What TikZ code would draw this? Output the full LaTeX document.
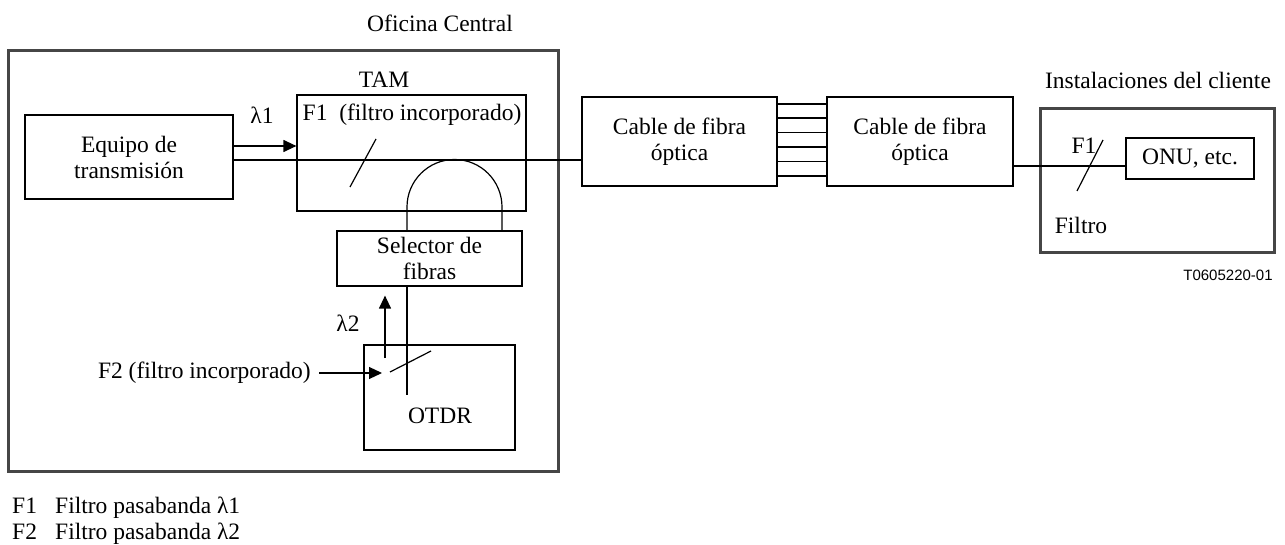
\documentclass[tikz,border=0pt]{standalone}
\usepackage{fontspec}
\setmainfont{Liberation Serif}
\newfontfamily\labelsans{Liberation Sans}
\usetikzlibrary{arrows.meta,calc}
\begin{document}
\begin{tikzpicture}[x=1pt,y=-1pt,
  every node/.style={font=\fontsize{23.5}{26}\selectfont, inner sep=0pt},
  blk/.style={draw, line width=1.2pt, align=center},
  zone/.style={draw={rgb,255:red,70;green,70;blue,70}, line width=3pt},
  wire/.style={line width=1.2pt},
  sig/.style={line width=1.2pt, -{Triangle[length=13pt,width=12pt]}},
  txt/.style={align=center}]
\useasboundingbox (0,0) rectangle (1285,545);
% Oficina central
\node[zone, minimum width=550, minimum height=421] (oc) at (283,261) {};
\node[txt] (octitle) at (440,23) {Oficina Central};
\node[blk, minimum width=208, minimum height=84] (equipo) at (129,157) {Equipo de\\transmisión};
\node[blk, minimum width=229, minimum height=116] (tam) at (411.5,153) {};
\node[txt] (tamlab) at (384,80) {TAM};
\node[txt] (f1in) at (412,115) {F1\ \ (filtro incorporado)};
\node[blk, minimum width=185, minimum height=55] (sel) at (429.5,258.5) {Selector de\\fibras};
\node[blk, minimum width=151, minimum height=105] (otdr) at (439.5,397.5) {};
\node[txt] (otdrlab) at (440,416) {OTDR};
\node[txt] (l1) at (262,115) {λ1};
\node[txt] (l2) at (348,323) {λ2};
\node[txt, anchor=east] (f2in) at (311,373) {F2 (filtro incorporado)};
% cables
\node[blk, minimum width=195, minimum height=89] (cab1) at (679.5,141.5) {Cable de fibra\\óptica};
\node[blk, minimum width=186, minimum height=89] (cab2) at (920,141.5) {Cable de fibra\\óptica};
% cliente
\node[zone, minimum width=234, minimum height=144] (cli) at (1157,181) {};
\node[txt] (clititle) at (1158,80) {Instalaciones del cliente};
\node[blk, minimum width=128, minimum height=41] (onu) at (1190,158.5) {ONU, etc.};
\node[txt] (f1cli) at (1084,146) {F1};
\node[txt] (filtro) at (1081,225) {Filtro};
\node[font=\labelsans\fontsize{15}{18}\selectfont] (tag) at (1228,275) {T0605220-01};
% legend
\node[anchor=base west] (lgf1) at (12,513) {F1};
\node[anchor=base west] (lgt1) at (55,513) {Filtro pasabanda λ1};
\node[anchor=base west] (lgf2) at (12,539) {F2};
\node[anchor=base west] (lgt2) at (55,539) {Filtro pasabanda λ2};
% connectors
\draw[sig] (equipo.east |- 0,146) -- (tam.west |- 0,146);
\draw[wire] (equipo.east |- 0,160) -- (cab1.west |- 0,160);
\draw[wire] (376,139) -- (350,187);
\draw[wire] (sel.north -| 407,0) -- (407,207) arc[start angle=180,end angle=360,radius=47.5] -- (sel.north -| 502,0);
\draw[wire] (sel.south -| 407,0) -- (407,395);
\draw[sig] (385,358) -- ($(sel.south -| 385,0)+(0,9)$);
\draw[sig] (f2in.east) ++(8,0) coordinate (f2a) (f2a) -- (382,373);
\draw[wire] (390,372) -- (431,351);
\foreach \yy in {104,118,132.5,147,161.5,176}
  \draw[wire] (cab1.east |- 0,\yy) -- (cab2.west |- 0,\yy);
\draw[wire] (cab2.east |- 0,166) -- (onu.west |- 0,166);
\draw[wire] (1103,140) -- (1077,191);
\end{tikzpicture}
\end{document}
